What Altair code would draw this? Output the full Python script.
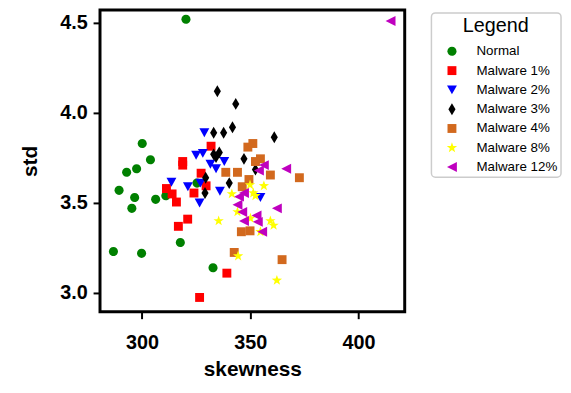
import math
import altair as alt
import pandas as pd

series = ["Normal", "Malware 1%", "Malware 2%", "Malware 3%", "Malware 4%", "Malware 8%", "Malware 12%"]
colors = ["#008000", "#ff0000", "#0000ff", "#000000", "#d2691e", "#ffff00", "#bf00bf"]

normal_x = [320.3, 300.1, 303.9, 297.5, 292.9, 289.4, 296.6, 306.3, 295.3, 286.8, 299.8, 317.7, 332.8, 325.4, 311.0]
normal_y = [4.52, 3.83, 3.74, 3.69, 3.67, 3.57, 3.53, 3.52, 3.47, 3.23, 3.22, 3.28, 3.14, 3.61, 3.54]

m1_x = [318.8, 318.8, 331.9, 327.3, 329.6, 324.0, 311.3, 313.9, 315.9, 321.1, 316.8, 339.2, 326.6]
m1_y = [3.73, 3.71, 3.815, 3.665, 3.595, 3.555, 3.58, 3.55, 3.505, 3.41, 3.37, 3.11, 2.975]

m2_x = [328.8, 325.0, 328.1, 331.6, 334.2, 338.0, 313.6, 321.2, 327.0, 336.0, 326.6, 354.7]
m2_y = [3.89, 3.765, 3.775, 3.715, 3.69, 3.73, 3.615, 3.59, 3.61, 3.565, 3.50, 3.53]

m3_x = [334.8, 343.3, 333.1, 337.7, 341.8, 361.1, 333.1, 335.7, 334.2, 347.1, 352.4, 329.4, 340.3, 329.1]
m3_y = [4.12, 4.05, 3.89, 3.89, 3.92, 3.865, 3.77, 3.78, 3.755, 3.745, 3.685, 3.64, 3.61, 3.555]

m4_x = [348.9, 351.2, 354.7, 352.4, 338.7, 344.1, 349.4, 359.3, 346.3, 372.7, 345.9, 349.9, 342.6, 364.7]
m4_y = [3.81, 3.83, 3.745, 3.73, 3.67, 3.67, 3.63, 3.655, 3.59, 3.64, 3.34, 3.345, 3.225, 3.185]

m8_x = [349.9, 356.3, 341.5, 351.4, 352.4, 344.1, 335.4, 359.3, 360.8, 350.1, 344.4, 362.3, 354.7]
m8_y = [3.60, 3.595, 3.55, 3.555, 3.54, 3.45, 3.40, 3.40, 3.375, 3.415, 3.205, 3.07, 3.34]

m12_x = [414.8, 356.3, 354.0, 366.6, 347.1, 344.8, 344.1, 346.3, 362.3, 352.9, 353.5, 347.1, 355.5]
m12_y = [4.51, 3.71, 3.68, 3.69, 3.555, 3.535, 3.49, 3.45, 3.47, 3.43, 3.395, 3.40, 3.34]

x_ticks = [300, 350, 400]
y_ticks = [3.0, 3.5, 4.0, 4.5]

all_x = [normal_x, m1_x, m2_x, m3_x, m4_x, m8_x, m12_x]
all_y = [normal_y, m1_y, m2_y, m3_y, m4_y, m8_y, m12_y]

rows = []
for name, xs, ys in zip(series, all_x, all_y):
    for xv, yv in zip(xs, ys):
        rows.append({"skewness": xv, "std": yv, "series": name})
df = pd.DataFrame(rows)


def star_path(R, r):
    pts = []
    for k in range(10):
        ang = -math.pi / 2 + k * math.pi / 5
        rad = R if k % 2 == 0 else r
        pts.append((rad * math.cos(ang), rad * math.sin(ang)))
    return "M" + "L".join(f"{px:.3f},{py:.3f}" for px, py in pts) + "Z"


shapes = [
    "M0.92,0A0.92,0.92,0,1,1,-0.92,0A0.92,0.92,0,1,1,0.92,0Z",
    "M-0.9,-0.9L0.9,-0.9L0.9,0.9L-0.9,0.9Z",
    "M-1,-0.9L1,-0.9L0,0.9Z",
    "M0,-1.2L0.72,0L0,1.2L-0.72,0Z",
    "M-0.9,-0.9L0.9,-0.9L0.9,0.9L-0.9,0.9Z",
    star_path(1.1, 0.44),
    "M-1,0L1,-1L1,1Z",
]

AX_FONT = "Liberation Sans"

chart = alt.Chart(df).mark_point(filled=True, size=100, opacity=1, strokeWidth=0).encode(
    x=alt.X("skewness:Q",
            scale=alt.Scale(domain=[280.6, 421.35], nice=False, zero=False),
            axis=alt.Axis(values=x_ticks, title="skewness", format="d",
                          labelPadding=14, titlePadding=6)),
    y=alt.Y("std:Q",
            scale=alt.Scale(domain=[2.8956, 4.5714], nice=False, zero=False),
            axis=alt.Axis(values=y_ticks, title="std", format=".1f",
                          labelPadding=6, titlePadding=19)),
    color=alt.Color("series:N", scale=alt.Scale(domain=series, range=colors),
                    legend=alt.Legend(title="Legend")),
    shape=alt.Shape("series:N", scale=alt.Scale(domain=series, range=shapes),
                    legend=alt.Legend(title="Legend")),
).properties(
    width=308,
    height=305,
    autosize=alt.AutoSizeParams(type="none"),
    padding={"left": 93, "top": 0, "right": 160, "bottom": 72},
).configure_view(
    stroke="black", strokeWidth=3
).configure_axis(
    grid=False, domain=False, ticks=True, tickColor="black", tickWidth=2, tickSize=7,
    labelFont=AX_FONT, labelFontSize=20, labelFontWeight="bold", labelColor="black",
    titleFont=AX_FONT, titleFontSize=21, titleFontWeight="bold", titleColor="black",
).configure_legend(
    orient="none", legendX=335, legendY=3,
    padding=3, strokeColor="#cccccc", strokeWidth=1.5, cornerRadius=4, fillColor="white",
    titleFont=AX_FONT, titleFontSize=20, titleFontWeight="normal", titleAnchor="middle",
    titleColor="black", titlePadding=9,
    labelFont=AX_FONT, labelFontSize=13.5, labelColor="black", labelOffset=18,
    symbolSize=100, symbolOffset=11, symbolStrokeWidth=0, rowPadding=4.5,
)

chart.save("out.html", embed_options={"renderer": "svg", "actions": False})
